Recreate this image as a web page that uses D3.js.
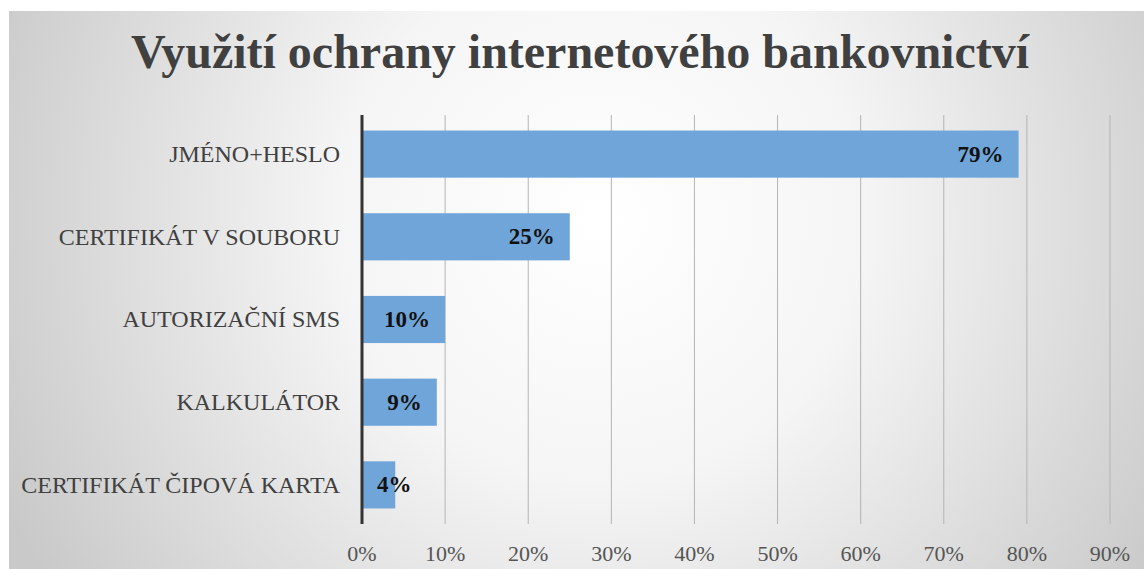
<!DOCTYPE html>
<html>
<head>
	<title>Využití ochrany internetového bankovnictví</title>
	<meta charset="utf-8">
	<script src="https://d3js.org/d3.v7.min.js"></script>
	<style>
		body { margin: 0; background: #fff; }
	</style>
</head>
<body>
	<script type="text/javascript">
		var categories = ['JMÉNO+HESLO', 'CERTIFIKÁT V SOUBORU', 'AUTORIZAČNÍ SMS', 'KALKULÁTOR', 'CERTIFIKÁT ČIPOVÁ KARTA'];
		var values = [0.79, 0.25, 0.10, 0.09, 0.04];
		var ticks = [0, 0.1, 0.2, 0.3, 0.4, 0.5, 0.6, 0.7, 0.8, 0.9];
		var title = 'Využití ochrany internetového bankovnictví';

		var W = 1144, H = 569;
		var serif = '"Liberation Serif", "Times New Roman", serif';

		var svg = d3.select('body')
		  .append('svg')
		  .attr('width', W)
		  .attr('height', H);

		// radial background like the excel chart area
		var grad = svg.append('defs').append('radialGradient')
		  .attr('id', 'bg')
		  .attr('gradientUnits', 'userSpaceOnUse')
		  .attr('cx', 600).attr('cy', 220).attr('r', 660);
		grad.append('stop').attr('offset', '0%').attr('stop-color', '#ffffff');
		grad.append('stop').attr('offset', '40%').attr('stop-color', '#f5f5f5');
		grad.append('stop').attr('offset', '100%').attr('stop-color', '#c9c9c9');

		svg.append('rect')
		  .attr('x', 9).attr('y', 11)
		  .attr('width', W - 9).attr('height', H - 11)
		  .attr('fill', 'url(#bg)');

		var x = d3.scaleLinear().domain([0, 0.9]).range([362, 1110]);
		var y = d3.scaleBand().domain(categories).range([114, 525]).paddingInner(0.43).paddingOuter(0.2);

		// gridlines
		svg.append('g')
		  .selectAll('line')
		  .data(ticks.slice(1))
		  .enter().append('line')
		  .attr('x1', d => x(d)).attr('x2', d => x(d))
		  .attr('y1', 115).attr('y2', 524)
		  .attr('stroke', '#b4b4b4')
		  .attr('stroke-width', 1);

		// bars
		svg.append('g')
		  .selectAll('rect')
		  .data(values)
		  .enter().append('rect')
		  .attr('x', x(0))
		  .attr('y', (d, i) => y(categories[i]))
		  .attr('width', d => x(d) - x(0))
		  .attr('height', y.bandwidth())
		  .attr('fill', '#6fa5d9');

		// axis line
		svg.append('line')
		  .attr('x1', x(0)).attr('x2', x(0))
		  .attr('y1', 115).attr('y2', 524)
		  .attr('stroke', '#333')
		  .attr('stroke-width', 3);

		// category labels
		svg.append('g')
		  .selectAll('text')
		  .data(categories)
		  .enter().append('text')
		  .attr('x', 340)
		  .attr('y', d => y(d) + y.bandwidth() / 2)
		  .attr('dy', '0.33em')
		  .attr('text-anchor', 'end')
		  .style('font-family', serif)
		  .style('font-size', '24px')
		  .attr('fill', '#404040')
		  .text(d => d);

		// value labels (inside end, pushed right when the bar is too short)
		var fmt = d3.format('.0%');
		svg.append('g')
		  .selectAll('text')
		  .data(values)
		  .enter().append('text')
		  .attr('y', (d, i) => y(categories[i]) + y.bandwidth() / 2)
		  .attr('dy', '0.33em')
		  .attr('text-anchor', 'end')
		  .style('font-family', serif)
		  .style('font-size', '23px')
		  .style('font-weight', 'bold')
		  .attr('fill', '#111')
		  .text(d => fmt(d))
		  .each(function(d) {
		    var w = this.getComputedTextLength();
		    var right = Math.max(x(d) - 15, x(0) + 15 + w);
		    d3.select(this).attr('x', right);
		  });

		// tick labels
		svg.append('g')
		  .selectAll('text')
		  .data(ticks)
		  .enter().append('text')
		  .attr('x', d => x(d))
		  .attr('y', 561)
		  .attr('text-anchor', 'middle')
		  .style('font-family', serif)
		  .style('font-size', '22px')
		  .attr('fill', '#555')
		  .text(d => fmt(d));

		// title
		svg.append('text')
		  .attr('x', 131)
		  .attr('y', 68)
		  .attr('textLength', 898)
		  .attr('lengthAdjust', 'spacingAndGlyphs')
		  .style('font-family', serif)
		  .style('font-size', '48px')
		  .style('font-weight', 'bold')
		  .attr('fill', '#404040')
		  .text(title);
	</script>
</body>
</html>
